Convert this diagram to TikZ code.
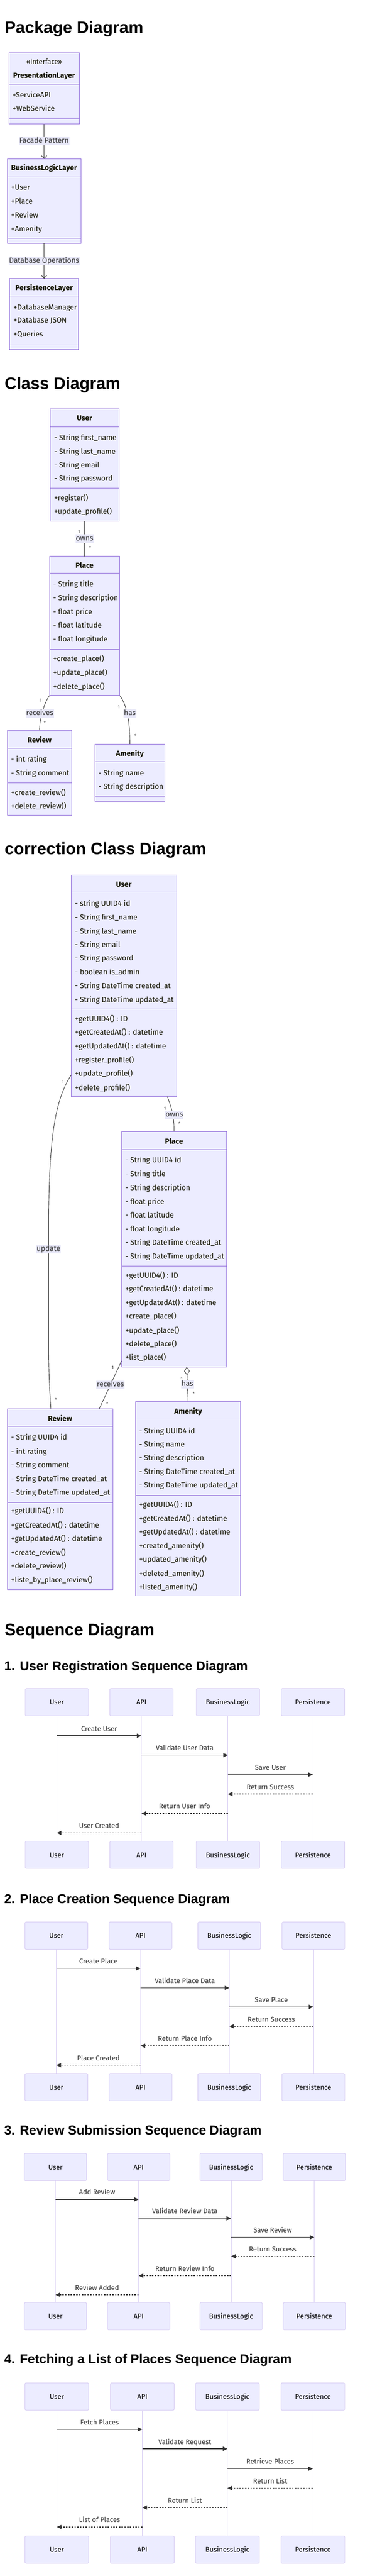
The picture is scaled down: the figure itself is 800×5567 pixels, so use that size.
\documentclass[tikz,border=0pt]{standalone}
\usepackage{fontspec}
\setmainfont{Fira Sans}
\newfontfamily\headfont{Liberation Sans}
\usetikzlibrary{arrows.meta}
\definecolor{cfill}{HTML}{ECECFF}
\definecolor{cdraw}{HTML}{9370DB}
\definecolor{adraw}{HTML}{D7CCF3}
\definecolor{ltext}{HTML}{333333}
\definecolor{ctext}{HTML}{131300}
\definecolor{lblbg}{HTML}{E8E8F8}
\tikzset{
  cbox/.style={draw=cdraw, fill=cfill, line width=1pt, inner sep=0pt, outer sep=0pt, anchor=north west},
  cdiv/.style={draw=cdraw, line width=1pt},
  mem/.style={anchor=base west, inner sep=0pt, text=ctext, font=\fontsize{16}{19}\selectfont},
  ttl/.style={anchor=base, inner sep=0pt, text=ctext, font=\bfseries\fontsize{16}{19}\selectfont},
  elbl/.style={fill=lblbg, inner sep=1pt, text height=12pt, text depth=4pt, text=ltext, font=\fontsize{16}{19}\selectfont},
  card/.style={inner sep=0pt, text=ltext, font=\fontsize{10}{12}\selectfont},
  conn/.style={draw=ltext, line width=1pt},
  actor/.style={draw=adraw, fill=cfill, line width=1pt, rounded corners=2pt, minimum height=59pt, inner sep=0pt, text height=11pt, text depth=0pt, text=black, font=\fontsize{15}{18}\selectfont},
  life/.style={draw=adraw, line width=1pt},
  msg/.style={draw=ltext, line width=1.5pt, -{Triangle[length=10pt,width=9pt]}},
  ret/.style={msg, dash pattern=on 3pt off 3pt},
  mlbl/.style={anchor=base, inner sep=0pt, text=ltext, font=\fontsize{15}{18}\selectfont},
  hone/.style={anchor=base west, inner sep=0pt, text=black, font=\headfont\bfseries\fontsize{36}{40}\selectfont},
  htwo/.style={anchor=base west, inner sep=0pt, text=black, font=\headfont\bfseries\fontsize{28}{32}\selectfont},
}
\newcommand\cbx[5]{\node[cbox, minimum width=#4pt, minimum height=#5pt] (#1) at (#2,#3) {};}
\newcommand\hdiv[2]{\draw[cdiv] (#1.west |- 0,#2) -- (#1.east |- 0,#2);}
\newcommand\seqactors[8]{%
  \foreach \nm/\xx/\lb in {u/#4/User, a/#5/API, b/#6/BusinessLogic, p/#7/Persistence}{%
    \node[actor, minimum width=#8pt] (#1\nm) at (\xx,#2) {\lb};
    \node[actor, minimum width=#8pt] (#1\nm-bot) at (\xx,#3) {\lb};
    \draw[life] (#1\nm.south) -- (#1\nm-bot.north);
  }}
\newcommand\mymsg[5]{\draw[#5] (#1 |- 0,#3) -- (#2 |- 0,#3) node[mlbl, midway, yshift=10pt] (m-#3) {#4};}
\begin{document}
\begin{tikzpicture}[x=1pt,y=-1pt]
\fill[white] (0,0) rectangle (800,5567);
\useasboundingbox (0,0) rectangle (800,5567);

% ---------------- Package Diagram ----------------
\node[hone] (h-pkg) at (10,72) {Package Diagram};
\cbx{pres}{19}{114}{153}{154}
\node[ttl, font=\fontsize{15}{18}\selectfont] (pres-st) at (95.5,139) {«Interface»};
\node[ttl] (pres-t) at (95.5,169) {PresentationLayer};
\hdiv{pres}{182}
\foreach \yy/\mtext [count=\i] in {211/+ServiceAPI, 240/+WebService} \node[mem] (pres-m\i) at (27,\yy) {\mtext};
\hdiv{pres}{257}

\cbx{bll}{16}{343}{159}{183}
\node[ttl] (bll-t) at (95.5,368) {BusinessLogicLayer};
\hdiv{bll}{382}
\foreach \yy/\mtext [count=\i] in {410/+User, 440/+Place, 470/+Review, 500/+Amenity} \node[mem] (bll-m\i) at (24,\yy) {\mtext};
\hdiv{bll}{515}

\cbx{pers}{21}{602}{149}{153}
\node[ttl] (pers-t) at (95.5,627) {PersistenceLayer};
\hdiv{pers}{640}
\foreach \yy/\mtext [count=\i] in {670/+DatabaseManager, 698/+Database JSON, 728/+Queries} \node[mem] (pers-m\i) at (29,\yy) {\mtext};
\hdiv{pers}{745}

\draw[conn, -{Straight Barb[length=6pt,width=12pt]}] (pres.south) -- (bll.north) node[elbl, midway] (e-fac) {Facade Pattern};
\draw[conn, -{Straight Barb[length=6pt,width=12pt]}] (bll.south) -- (pers.north) node[elbl, midway] (e-db) {Database Operations};

% ---------------- Class Diagram ----------------
\node[hone] (h-cls) at (10,841) {Class Diagram};
\cbx{user}{108}{883}{150}{243}
\node[ttl] (user-t) at (183,909) {User};
\hdiv{user}{922}
\foreach \yy/\mtext [count=\i] in {951/- String first\_name, 981/- String last\_name, 1010/- String email, 1039/- String password, 1082/+register(), 1111/+update\_profile()} \node[mem] (user-m\i) at (117,\yy) {\mtext};
\hdiv{user}{1055}

\cbx{place}{107}{1202}{152}{301}
\node[ttl] (place-t) at (183,1227) {Place};
\hdiv{place}{1239}
\foreach \yy/\mtext [count=\i] in {1268/- String title, 1298/- String description, 1328/- float price, 1357/- float latitude, 1387/- float longitude, 1429/+create\_place(), 1459/+update\_place(), 1489/+delete\_place()} \node[mem] (place-m\i) at (115,\yy) {\mtext};
\hdiv{place}{1403}

\cbx{review}{16}{1578}{139}{184}
\node[ttl] (review-t) at (85.5,1605) {Review};
\hdiv{review}{1617}
\foreach \yy/\mtext [count=\i] in {1646/- int rating, 1676/- String comment, 1718/+create\_review(), 1747/+delete\_review()} \node[mem] (review-m\i) at (24,\yy) {\mtext};
\hdiv{review}{1692}

\cbx{amen}{205}{1608}{152}{124}
\node[ttl] (amen-t) at (281,1634) {Amenity};
\hdiv{amen}{1646}
\foreach \yy/\mtext [count=\i] in {1676/- String name, 1705/- String description} \node[mem] (amen-m\i) at (213,\yy) {\mtext};
\hdiv{amen}{1721}

\draw[conn] (user.south) -- (place.north) node[elbl, midway] (e-owns) {owns};
\node[card] (c-owns1) at (171,1150) {1};
\node[card] (c-owns2) at (195,1184) {*};
\draw[conn] (place.south west) .. controls (96,1520) and (86,1548) .. (review.north);
\node[elbl] (e-rec) at (86,1542) {receives};
\node[card] (c-rec1) at (88,1514) {1};
\node[card] (c-rec2) at (97,1562) {*};
\draw[conn] (place.south east) .. controls (272,1520) and (281,1550) .. (amen.north);
\node[elbl] (e-has) at (281,1542) {has};
\node[card] (c-has1) at (257,1528) {1};
\node[card] (c-has2) at (293,1590) {*};

% ---------------- correction Class Diagram ----------------
\node[hone] (h-cor) at (10,1847) {correction Class Diagram};
\cbx{cuser}{154}{1891}{228}{479}
\node[ttl] (cuser-t) at (268,1917) {User};
\hdiv{cuser}{1928}
\foreach \yy/\mtext [count=\i] in {1958/- string UUID4 id, 1988/- String first\_name, 2018/- String last\_name, 2047/- String email, 2076/- String password, 2106/- boolean is\_admin, 2136/- String DateTime created\_at, 2166/- String DateTime updated\_at, 2207/+getUUID4() : ID, 2236/+getCreatedAt() : datetime, 2266/+getUpdatedAt() : datetime, 2296/+register\_profile(), 2325/+update\_profile(), 2356/+delete\_profile()} \node[mem] (cuser-m\i) at (162,\yy) {\mtext};
\hdiv{cuser}{2181}

\cbx{cplace}{263}{2445}{227}{509}
\node[ttl] (cplace-t) at (376.5,2472) {Place};
\hdiv{cplace}{2484}
\foreach \yy/\mtext [count=\i] in {2512/- String UUID4 id, 2542/- String title, 2572/- String description, 2602/- float price, 2631/- float latitude, 2661/- float longitude, 2691/- String DateTime created\_at, 2721/- String DateTime updated\_at, 2762/+getUUID4() : ID, 2791/+getCreatedAt() : datetime, 2821/+getUpdatedAt() : datetime, 2850/+create\_place(), 2881/+update\_place(), 2910/+delete\_place(), 2939/+list\_place()} \node[mem] (cplace-m\i) at (271,\yy) {\mtext};
\hdiv{cplace}{2736}

\cbx{creview}{16}{3044}{228}{391}
\node[ttl] (creview-t) at (130,3071) {Review};
\hdiv{creview}{3082}
\foreach \yy/\mtext [count=\i] in {3111/- String UUID4 id, 3142/- int rating, 3172/- String comment, 3201/- String DateTime created\_at, 3231/- String DateTime updated\_at, 3271/+getUUID4() : ID, 3302/+getCreatedAt() : datetime, 3331/+getUpdatedAt() : datetime, 3361/+create\_review(), 3390/+delete\_review(), 3420/+liste\_by\_place\_review()} \node[mem] (creview-m\i) at (24,\yy) {\mtext};
\hdiv{creview}{3247}

\cbx{camen}{293}{3029}{228}{420}
\node[ttl] (camen-t) at (407,3056) {Amenity};
\hdiv{camen}{3067}
\foreach \yy/\mtext [count=\i] in {3098/- String UUID4 id, 3127/- String name, 3156/- String description, 3186/- String DateTime created\_at, 3215/- String DateTime updated\_at, 3257/+getUUID4() : ID, 3287/+getCreatedAt() : datetime, 3316/+getUpdatedAt() : datetime, 3346/+created\_amenity(), 3375/+updated\_amenity(), 3406/+deleted\_amenity(), 3435/+listed\_amenity()} \node[mem] (camen-m\i) at (301,\yy) {\mtext};
\hdiv{camen}{3231}

\coordinate (cowns-a) at (362,2370);
\draw[conn] (cowns-a) .. controls (372,2395) and (377,2415) .. (cplace.north);
\node[elbl] (ce-owns) at (377,2409) {owns};
\node[card] (cc-owns1) at (357,2396) {1};
\node[card] (cc-owns2) at (388,2428) {*};

\coordinate (cupd-a) at (154,2323);
\coordinate (cupd-b) at (110,3044);
\draw[conn] (cupd-a) .. controls (114,2385) and (105,2480) .. (105,2680) -- (105,2880) .. controls (105,2980) and (108,3010) .. (cupd-b);
\node[elbl] (ce-upd) at (105,2700) {update};
\node[card] (cc-upd1) at (136,2337) {1};
\node[card] (cc-upd2) at (121,3025) {*};

\coordinate (crec-a) at (263,2941);
\coordinate (crec-b) at (215,3044);
\draw[conn] (crec-a) -- (crec-b) node[elbl, midway] (ce-rec) {receives};
\node[card] (cc-rec1) at (244,2955) {1};
\node[card] (cc-rec2) at (232,3034) {*};

\coordinate (chas-a) at (404,2954);
\draw[conn, {Diamond[open,length=18pt,width=12pt]}-] (chas-a) -- (camen.north) node[elbl, midway] (ce-has) {has};
\node[card] (cc-has1) at (393,2980) {1};
\node[card] (cc-has2) at (419,3012) {*};

% ---------------- Sequence Diagrams ----------------
\node[hone] (h-seq) at (10,3534) {Sequence Diagram};

\node[htwo] (h-s1) at (9,3610) {1. User Registration Sequence Diagram};
\seqactors{s1}{3678.5}{4008.5}{123}{306}{493}{677}{137}
\mymsg{s1u}{s1a}{3751}{Create User}{msg}
\mymsg{s1a}{s1b}{3793}{Validate User Data}{msg}
\mymsg{s1b}{s1p}{3835}{Save User}{msg}
\mymsg{s1p}{s1b}{3877}{Return Success}{ret}
\mymsg{s1b}{s1a}{3919}{Return User Info}{ret}
\mymsg{s1a}{s1u}{3961}{User Created}{ret}

\node[htwo] (h-s2) at (9,4113) {2. Place Creation Sequence Diagram};
\seqactors{s2}{4183}{4510.5}{122}{304}{496}{678}{136}
\mymsg{s2u}{s2a}{4254}{Create Place}{msg}
\mymsg{s2a}{s2b}{4296}{Validate Place Data}{msg}
\mymsg{s2b}{s2p}{4337}{Save Place}{msg}
\mymsg{s2p}{s2b}{4379}{Return Success}{ret}
\mymsg{s2b}{s2a}{4421}{Return Place Info}{ret}
\mymsg{s2a}{s2u}{4463}{Place Created}{ret}

\node[htwo] (h-s3) at (9,4613) {3. Review Submission Sequence Diagram};
\seqactors{s3}{4683}{5005.5}{120}{300}{500}{680}{135}
\mymsg{s3u}{s3a}{4753}{Add Review}{msg}
\mymsg{s3a}{s3b}{4794}{Validate Review Data}{msg}
\mymsg{s3b}{s3p}{4835}{Save Review}{msg}
\mymsg{s3p}{s3b}{4876}{Return Success}{ret}
\mymsg{s3b}{s3a}{4918}{Return Review Info}{ret}
\mymsg{s3a}{s3u}{4959}{Review Added}{ret}

\node[htwo] (h-s4) at (9,5108) {4. Fetching a List of Places Sequence Diagram};
\seqactors{s4}{5179}{5510}{123}{308}{492}{677}{138}
\mymsg{s4u}{s4a}{5250}{Fetch Places}{msg}
\mymsg{s4a}{s4b}{5292}{Validate Request}{msg}
\mymsg{s4b}{s4p}{5335}{Retrieve Places}{msg}
\mymsg{s4p}{s4b}{5377}{Return List}{ret}
\mymsg{s4b}{s4a}{5419}{Return List}{ret}
\mymsg{s4a}{s4u}{5461}{List of Places}{ret}
\end{tikzpicture}
\end{document}
